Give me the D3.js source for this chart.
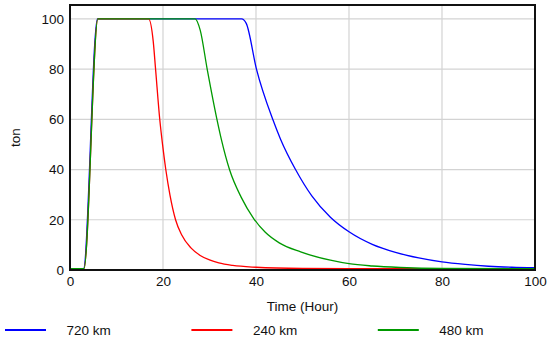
<!DOCTYPE html>
<html>
<head>
<meta charset="utf-8">
<script src="https://cdn.jsdelivr.net/npm/d3@7"></script>
<style>
  body { margin: 0; background: #fff; }
  svg { display: block; font-family: "Liberation Sans", Arial, sans-serif; }
</style>
</head>
<body>
<div id="chart"></div>
<script>
// Series: time (hour) and amount (ton)
const blueTime = [0, 2.9, 5.9, 36.9, 37.9, 40.1, 43.6, 45.3, 48.5, 52, 56, 60, 65, 70, 75, 80, 85, 90, 95, 100];
const blueTon  = [0.5, 0.5, 100, 100, 98.2, 80, 60, 52, 40, 29.5, 21, 15.2, 10.2, 7, 4.8, 3.2, 2.2, 1.5, 1.1, 0.9];

const redTime = [0, 3, 6, 16.9, 17.9, 18.4, 19.3, 19.9, 20.6, 21.5, 22.7, 24, 26, 28, 30, 32, 35, 40, 50, 60, 100];
const redTon  = [0.5, 0.5, 100, 100, 91, 80, 60, 50, 40, 29.8, 20, 14, 8.8, 5.8, 4.0, 2.8, 1.8, 1.1, 0.6, 0.5, 0.5];

const greenTime = [0, 3, 6, 26.9, 28, 29.5, 31.6, 32.6, 34.3, 36.8, 39.5, 42, 45, 49.6, 56, 60, 65, 71, 80, 100];
const greenTon  = [0.5, 0.5, 100, 100, 95.5, 80, 60, 51.6, 40, 29, 20.5, 15, 10.8, 7.2, 3.9, 2.5, 1.6, 1.0, 0.6, 0.5];

const seriesNames = ["720 km", "240 km", "480 km"];
const seriesColors = ["#0000ff", "#ff0000", "#009900"];

const xTicks = [0, 20, 40, 60, 80, 100];
const yTicks = [0, 20, 40, 60, 80, 100];

const series = [
    { name: seriesNames[0], color: seriesColors[0], points: d3.zip(blueTime, blueTon) },
    { name: seriesNames[1], color: seriesColors[1], points: d3.zip(redTime, redTon) },
    { name: seriesNames[2], color: seriesColors[2], points: d3.zip(greenTime, greenTon) }
];

const W = 550, H = 341;
const plot = { left: 70, right: 535, top: 5, bottom: 270 };

const svg = d3.select("#chart")
    .append("svg")
    .attr("width", W)
    .attr("height", H);

const x = d3.scaleLinear().domain([0, 100]).range([plot.left, plot.right]);
const y = d3.scaleLinear().domain([0, 105.5]).range([plot.bottom, plot.top]);

// grid
svg.append("g")
    .selectAll("line.vgrid")
    .data(xTicks.filter(d => d > 0 && d < 100))
    .enter()
    .append("line")
    .attr("x1", d => x(d)).attr("x2", d => x(d))
    .attr("y1", plot.top).attr("y2", plot.bottom)
    .attr("stroke", "#d3d3d3")
    .attr("stroke-width", 1.2);

svg.append("g")
    .selectAll("line.hgrid")
    .data(yTicks.filter(d => d > 0))
    .enter()
    .append("line")
    .attr("x1", plot.left).attr("x2", plot.right)
    .attr("y1", d => y(d)).attr("y2", d => y(d))
    .attr("stroke", "#d3d3d3")
    .attr("stroke-width", 1.2);

// lines
const line = d3.line()
    .x(d => x(d[0]))
    .y(d => y(d[1]))
    .curve(d3.curveMonotoneX);

svg.append("g")
    .selectAll("path")
    .data(series)
    .enter()
    .append("path")
    .attr("d", d => line(d.points))
    .attr("fill", "none")
    .attr("stroke", d => d.color)
    .attr("stroke-width", 1.3);

// frame
svg.append("rect")
    .attr("x", plot.left)
    .attr("y", plot.top)
    .attr("width", plot.right - plot.left)
    .attr("height", plot.bottom - plot.top)
    .attr("fill", "none")
    .attr("stroke", "#111")
    .attr("stroke-width", 2);

// axes (labels only, the frame draws the lines)
const xAxis = svg.append("g")
    .attr("transform", `translate(0,${plot.bottom})`)
    .call(d3.axisBottom(x).tickValues(xTicks).tickSize(0).tickPadding(6));
const yAxis = svg.append("g")
    .attr("transform", `translate(${plot.left},0)`)
    .call(d3.axisLeft(y).tickValues(yTicks).tickSize(0).tickPadding(6));

[xAxis, yAxis].forEach(a => {
    a.select(".domain").remove();
    a.selectAll("text")
        .attr("fill", "#111")
        .style("font-size", "13.5px")
        .style("font-family", "'Liberation Sans', Arial, sans-serif");
});

// axis titles
svg.append("text")
    .attr("x", (plot.left + plot.right) / 2)
    .attr("y", 311)
    .attr("text-anchor", "middle")
    .style("font-size", "13.5px")
    .attr("fill", "#111")
    .text("Time (Hour)");

svg.append("text")
    .attr("transform", `translate(20,${(plot.top + plot.bottom) / 2}) rotate(-90)`)
    .attr("text-anchor", "middle")
    .style("font-size", "13.5px")
    .attr("fill", "#111")
    .text("ton");

// legend
const legend = svg.append("g")
    .selectAll("g")
    .data(series)
    .enter()
    .append("g")
    .attr("transform", (d, i) => `translate(${5 + i * 186.4},330)`);

legend.append("line")
    .attr("x1", 0).attr("x2", 41)
    .attr("stroke", d => d.color)
    .attr("stroke-width", 2);

legend.append("text")
    .attr("x", 61.5)
    .attr("dy", "0.35em")
    .style("font-size", "13.5px")
    .attr("fill", "#111")
    .text(d => d.name);
</script>
</body>
</html>
